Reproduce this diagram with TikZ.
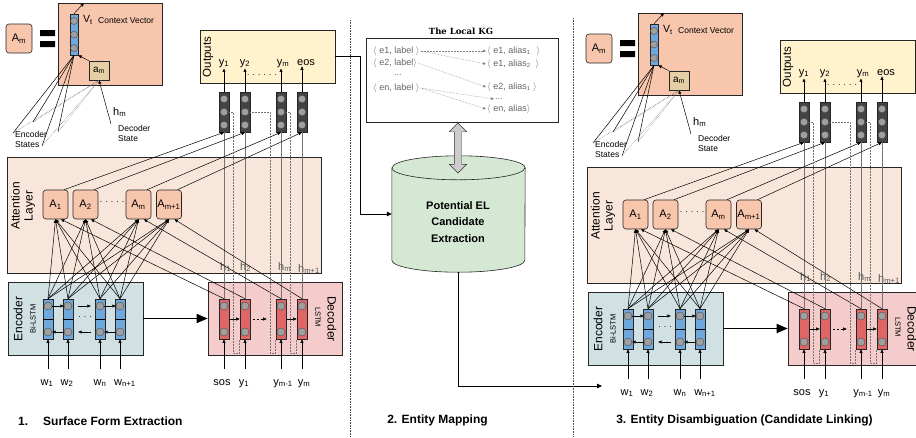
\documentclass[tikz,border=0pt]{standalone}
\usepackage{fontspec}
\setmainfont{Liberation Sans}
\newfontfamily\kgfont{DejaVu Serif}
\usetikzlibrary{arrows.meta,calc,shapes.arrows}

\definecolor{ctxsalmon}{HTML}{F8C6AC}
\definecolor{amtan}{HTML}{E5CFA4}
\definecolor{attpeach}{HTML}{F9E6DA}
\definecolor{outyellow}{HTML}{FFF2CC}
\definecolor{encgrey}{HTML}{D0E0E3}
\definecolor{decpink}{HTML}{F4CCCC}
\definecolor{cellblue}{HTML}{6FA8DC}
\definecolor{cellred}{HTML}{E06666}
\definecolor{coldark}{HTML}{434343}
\definecolor{cylgreen}{HTML}{D5E8D4}

\tikzset{
    box/.style = {draw = black!85, line width = .6pt, inner sep = 0pt},
    abox/.style = {box, rounded corners = 3pt, fill = ctxsalmon,
        minimum width = 25pt, minimum height = 29pt,
        font = \fontsize{11}{13}\selectfont},
    cell/.style = {box, minimum width = 10pt, minimum height = 40pt},
    dotc/.style = {circle, draw = black!70, fill = gray!75, line width = .4pt,
        minimum size = 8pt, inner sep = 0pt},
    conn/.style = {line width = .5pt, -{Triangle[length = 3.5pt, width = 3pt]}},
    bigconn/.style = {line width = .8pt, -{Triangle[length = 5pt, width = 4.5pt]}},
    thickconn/.style = {line width = 1.6pt, -{Triangle[length = 11pt, width = 9pt]}},
    vline/.style = {draw = black!55, line width = .7pt},
    fb/.style = {densely dotted, draw = black!55, line width = .5pt},
    kgdot/.style = {densely dotted, draw = black!50, line width = .5pt,
        -{Triangle[length = 3pt, width = 2.5pt]}},
    lbl/.style = {font = \fontsize{11}{13}\selectfont, inner sep = 1pt},
    smalllbl/.style = {font = \fontsize{8.5}{10}\selectfont, inner sep = 1pt},
    minilbl/.style = {font = \fontsize{7.5}{8}\selectfont, inner sep = 0pt},
    sidelbl/.style = {font = \fontsize{12}{13}\selectfont, inner sep = 0pt},
    kgtext/.style = {font = \fontsize{9}{10}\selectfont, text = black!60,
        inner sep = 1pt, anchor = west},
    steptitle/.style = {font = \bfseries\fontsize{12}{14}\selectfont, inner sep = 0pt},
    divider/.style = {densely dotted, draw = black!70, line width = .6pt}
}

\begin{document}
\begin{tikzpicture}[
        x = 1pt,
        y = -1pt
    ]
    \useasboundingbox (0,0) rectangle (916,437);
    \fill[white] (0,0) rectangle (916,437);
    \clip (0,0) rectangle (916,437);

    % the two seq2seq modules
    \foreach \dx/\dy/\p in {0/0/l,580/10/r}{
        \begin{scope}[shift={(\dx,\dy)}, name prefix=\p-]
            \node[box, fill=ctxsalmon, minimum width=104pt, minimum height=82pt] (ctx) at (110,44) {};
            \node[box, fill=outyellow, minimum width=135pt, minimum height=53pt] (outbox) at (267.5,56.5) {};
            \node[box, fill=attpeach, minimum width=314pt, minimum height=116pt] (attbox) at (164,215) {};
            \node[box, fill=encgrey, minimum width=135pt, minimum height=73pt] (encbox) at (75.5,318.5) {};
            \node[box, fill=decpink, minimum width=134pt, minimum height=73pt] (decbox) at (275,318.5) {};

            % context vector
            \node[abox, minimum width=26pt] (amq) at (19,38.5) {A\textsubscript{m}};
            \fill (40,30) rectangle (55,36) (40,41) rectangle (55,47);
            \node[box, fill=cellblue, minimum width=8pt, minimum height=41pt] (vt) at (74,34.5) {};
            \foreach \y [count=\k] in {21,34.5,48}
                \node[dotc, minimum size=7pt] (vc\k) at (74,\y) {};
            \coordinate (vtout) at (84,3);
            \draw[conn] (vt.north) -- (vtout);
            \node[lbl, anchor=west, font=\fontsize{10.5}{12}\selectfont] (vtl) at (82,20) {V\textsubscript{t}};
            \node[smalllbl, anchor=west] (ctxl) at (97,21) {Context Vector};
            \node[box, fill=amtan, minimum width=20pt, minimum height=19pt,
                font=\fontsize{10}{12}\selectfont] (am) at (99,70.5) {a\textsubscript{m}};
            \draw[conn] (am.north west) -- (vt.south east);
            \foreach \x/\y [count=\k] in {13/133,33/122,42/146,58/132}{
                \coordinate (es\k) at (\x,\y);
                \draw[line width=.5pt] (vt.south) -- (es\k);
                \draw[fb] (am.south) -- (es\k);
            }
            \node[smalllbl, anchor=west, align=left] (esl) at (14,139) {Encoder\\States};
            \node[lbl, anchor=west] (hml) at (112,112) {h\textsubscript{m}};
            \node[smalllbl, anchor=west, align=left] (dsl) at (117,133) {Decoder\\State};
            \coordinate (hmin) at (111,124);
            \draw[conn] (hmin) -- (am.south);

            % outputs
            \node[sidelbl, rotate=90, font=\fontsize{11.5}{13}\selectfont] (outl) at (208,57) {Outputs};
            \foreach \x/\t [count=\k] in {224/y\textsubscript{1},245/y\textsubscript{2},283/y\textsubscript{m},306/eos}
                \node[lbl, anchor=base] (yo\k) at (\x,65) {\t};
            \node[smalllbl] (odots) at (262,75) {. . . . . .};

            % attention layer
            \node[sidelbl, rotate=90, align=center] (attl) at (23,206) {Attention\\Layer};
            \foreach \x/\t [count=\k] in {55.5/1,85.5/2,138.5/m,169/m+1}
                \node[abox] (a\k) at (\x,204.5) {A\textsubscript{\t}};
            \node[smalllbl] (adots) at (112,202) {. . . . .};

            % encoder
            \node[sidelbl, rotate=90] (encl) at (18,319) {Encoder};
            \node[minilbl, rotate=90] (bil) at (33,319) {Bi-LSTM};
            \foreach \x [count=\k] in {48,68,100,120}{
                \node[cell, fill=cellblue] (e\k) at (\x,319) {};
                \draw[line width=.5pt] (e\k.west) -- (e\k.east);
                \node[dotc] (et\k) at (\x,306) {};
                \node[dotc] (eb\k) at (\x,332) {};
            }
            \draw[conn] (et1) -- (et2);
            \draw[conn, shorten <=6pt, shorten >=5pt] (et2) -- (et3);
            \draw[conn] (et3) -- (et4);
            \draw[conn] (eb2) -- (eb1);
            \draw[conn, shorten <=5pt, shorten >=6pt] (eb3) -- (eb2);
            \draw[conn] (eb4) -- (eb3);
            \node[smalllbl] (edots) at (85,317) {. . .};
            \foreach \x/\t [count=\k] in {47/1,67/2,100/n,125/n+1}{
                \node[lbl, anchor=base] (w\k) at (\x,385) {w\textsubscript{\t}};
                \draw[conn] ($(e\k.south |- w\k.north)+(0,-9)$) -- (e\k.south);
            }
            \draw[thickconn] (encbox.east) -- (decbox.west);

            % decoder and output columns
            \node[minilbl, rotate=-90] (lstml) at (318,317) {LSTM};
            \node[sidelbl, rotate=-90] (decl) at (332,319) {Decoder};
            \foreach \x [count=\k] in {224,245,281,302}{
                \node[cell, fill=coldark] (oc\k) at (\x,112) {};
                \foreach \y [count=\j] in {99,112,125}
                    \node[dotc, minimum size=7.5pt] (oc\k c\j) at (\x,\y) {};
                \draw[conn] (oc\k.north) -- (oc\k.north |- yo\k.south);
                \node[cell, fill=cellred] (d\k) at (\x,319) {};
                \node[dotc] (dt\k) at (\x,306) {};
                \node[dotc] (db\k) at (\x,332) {};
            }
            \draw[conn] (d1) -- (d2);
            \draw[conn, dash pattern=on 2pt off 2pt, shorten <=3pt, shorten >=9pt] (d2) -- (d3);
            \draw[conn] (d3) -- (d4);
            \foreach \x/\t [count=\k] in {222/sos,244/y\textsubscript{1},283/y\textsubscript{m-1},304/y\textsubscript{m}}{
                \node[lbl, anchor=base] (s\k) at (\x,385) {\t};
                \draw[conn] ($(d\k.south |- s\k.north)+(0,-9)$) -- (d\k.south);
            }
            \foreach \x/\y/\t [count=\k] in {219/270/1,239/270/2,277/270/m,297/272/m+1}
                \node[lbl, text=black!65, anchor=base west] (h\k) at (\x,\y) {h\textsubscript{\t}};

            % attention connections
            \foreach \i in {1,...,4}{
                \foreach \j in {1,...,4}
                    \draw[conn] (e\j.north) -- (a\i.south);
                \draw[conn] (d\i.north) -- (a\i.-70);
                \draw[conn] (a\i.60) -- (oc\i.south);
                \draw[vline] (d\i.north) -- (oc\i.south);
            }
            \draw[fb] (oc1.east) -| ++(4,241) -| (d2.south west);
            \draw[fb] (oc2.east) -| ++(20,241) -| (d3.south west);
            \draw[fb] (oc3.east) -| ++(4,241) -| (d4.south west);
        \end{scope}
    }

    % entity mapping
    \node[font=\kgfont\bfseries\fontsize{8.5}{10}\selectfont, inner sep=0pt] (kgt) at (461,31) {The Local KG};
    \node[box, fill=white, minimum width=192pt, minimum height=84pt] (kg) at (462,80) {};
    \node[kgtext] (kl1) at (372,51) {$\langle$ e1, label $\rangle$};
    \node[kgtext] (kl2) at (372,63) {$\langle$ e2, label$\rangle$};
    \node[kgtext] (kld) at (393,75) {...};
    \node[kgtext] (kl3) at (372,88) {$\langle$ en, label $\rangle$};
    \node[kgtext] (kr1) at (486,51) {$\langle$ e1, alias\textsubscript{1}\hspace{6pt}$\rangle$};
    \node[kgtext] (kr2) at (486,64) {$\langle$ e1, alias\textsubscript{2}\hspace{5pt}$\rangle$};
    \node[kgtext] (kr3) at (486,87) {$\langle$ e2, alias\textsubscript{1} $\rangle$};
    \node[kgtext] (krd) at (494,99) {...};
    \node[kgtext] (kr4) at (486,109) {$\langle$ en, alias$\rangle$};
    \draw[kgdot] (kl1.east) -- (kr1.west);
    \draw[kgdot] (kl1.east) -- (kr2.west);
    \draw[kgdot] (kl2.east) -- (kr3.west);
    \draw[kgdot] (kl3.east) -- (krd.west);
    \draw[kgdot] (kl3.east) -- (kr4.west);

    \node[minimum width=133pt, minimum height=92pt, inner sep=0pt] (cyl) at (458.5,214) {};
    \draw[box, fill=cylgreen] (cyl.north west) -- (cyl.south west)
        arc[start angle=180, end angle=360, x radius=66.5pt, y radius=12pt]
        -- (cyl.north east)
        arc[start angle=0, end angle=180, x radius=66.5pt, y radius=12pt] -- cycle;
    \draw[box] (cyl.north west) arc[start angle=180, end angle=360, x radius=66.5pt, y radius=12pt];
    \node[align=center, font=\bfseries\fontsize{11}{16.5}\selectfont] (cylt) at (458,222) {Potential EL\\Candidate\\Extraction};
    \node[double arrow, draw=black!80, fill=gray!40, rotate=90, minimum height=50pt,
        minimum width=17pt, double arrow head extend=5pt, inner sep=3.5pt] (kgarr) at (458,148) {};

    \draw[bigconn] (l-outbox.east) -- ++(25,0) |- (cyl.west);
    \coordinate (elin) at (602,386);
    \draw[bigconn] ($(cyl.south)+(0,12)$) |- (elin);

    % separators and titles
    \draw[divider] (350,20) -- (350,437);
    \draw[divider] (573,18) -- (573,437);
    \node[steptitle, anchor=base west] (t1) at (18,425) {1.\hspace{15pt}Surface Form Extraction};
    \node[steptitle, anchor=base] (t2) at (437.5,423) {2. Entity Mapping};
    \node[steptitle, anchor=base] (t3) at (744.5,423) {3. Entity Disambiguation (Candidate Linking)};
\end{tikzpicture}
\end{document}
